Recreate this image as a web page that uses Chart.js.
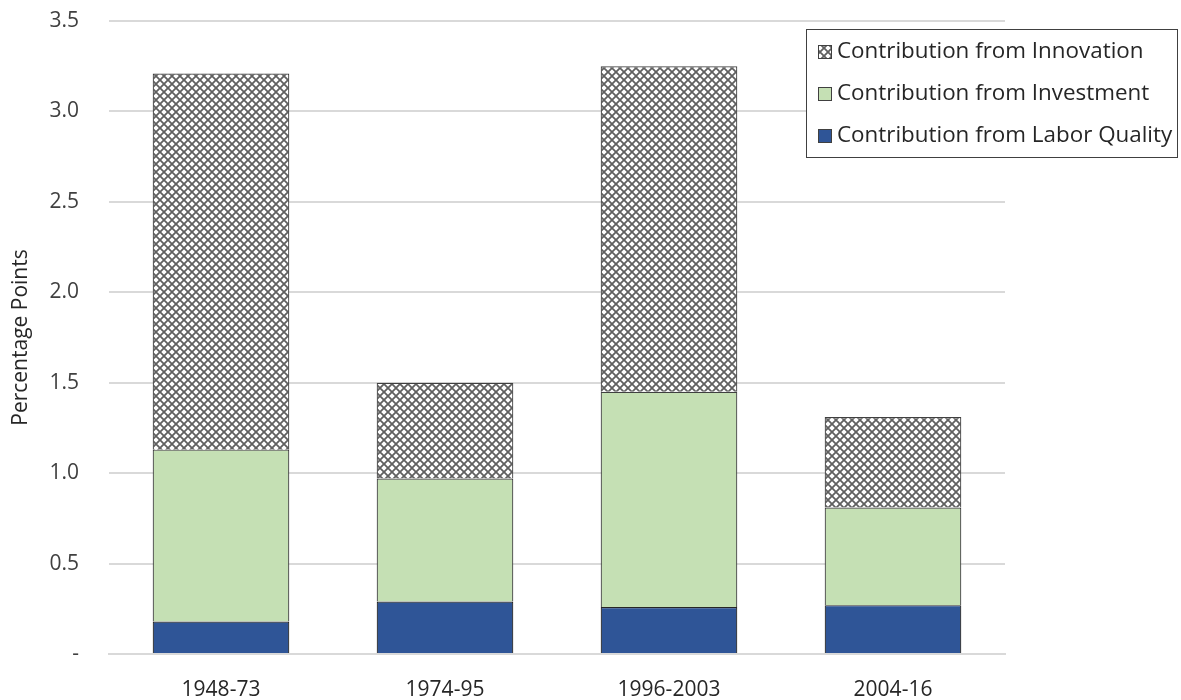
<!DOCTYPE html>
<html><head><meta charset="utf-8">
<script src="https://cdn.jsdelivr.net/npm/chart.js@4/dist/chart.umd.min.js"></script>
<style>html,body{margin:0;padding:0;background:#fff}#wrap{width:1181px;height:700px}</style>
</head><body><div id="wrap"><canvas id="c" width="1181" height="700"></canvas></div>
<script>
const categories = ["1948-73", "1974-95", "1996-2003", "2004-16"];
const laborQuality = [0.18, 0.29, 0.26, 0.27];
const investment = [0.95, 0.68, 1.19, 0.54];
const innovation = [2.08, 0.53, 1.80, 0.50];
const yTicks = [0, 0.5, 1.0, 1.5, 2.0, 2.5, 3.0, 3.5];
const seriesNames = ["Contribution from Labor Quality", "Contribution from Investment", "Contribution from Innovation"];

function makeHatch(){
  const s = 8;
  const p = document.createElement('canvas'); p.width = s; p.height = s;
  const g = p.getContext('2d');
  g.fillStyle = '#ffffff'; g.fillRect(0,0,s,s);
  g.strokeStyle = '#606060'; g.lineWidth = 1.8;
  g.beginPath();
  g.moveTo(-1, -1); g.lineTo(s+1, s+1);
  g.moveTo(-1, s+1); g.lineTo(s+1, -1);
  g.stroke();
  return document.getElementById('c').getContext('2d').createPattern(p, 'repeat');
}
const hatch = makeHatch();
const FONT = "'Open Sans', 'Liberation Sans', sans-serif";

const legendPlugin = {
  id: 'boxLegend',
  afterDraw(chart){
    const ctx = chart.ctx;
    const x = 806, y = 29, w = 371, h = 128;
    ctx.save();
    ctx.fillStyle = '#fff'; ctx.fillRect(x, y, w, h);
    ctx.strokeStyle = '#404040'; ctx.lineWidth = 1;
    ctx.strokeRect(x+0.5, y+0.5, w, h);
    const ds = chart.data.datasets.slice().reverse();
    ctx.font = "22.4px " + FONT;
    ctx.textBaseline = 'middle';
    ds.forEach((d, i) => {
      const cy = y + 22 + i * 42;
      ctx.fillStyle = d.backgroundColor;
      ctx.fillRect(x + 12, cy - 6, 14, 14);
      ctx.strokeStyle = '#404040'; ctx.lineWidth = 1;
      ctx.strokeRect(x + 12.5, cy - 5.5, 13, 13);
      ctx.fillStyle = '#262626';
      ctx.fillText(d.label, x + 31, cy + 1);
    });
    ctx.restore();
  }
};

new Chart(document.getElementById('c'), {
  type: 'bar',
  data: {
    labels: categories,
    datasets: [
      {label: seriesNames[0], data: laborQuality, backgroundColor: '#2F5597', borderColor: '#262626', borderWidth: 1.2},
      {label: seriesNames[1], data: investment, backgroundColor: '#C5E0B4', borderColor: '#404040', borderWidth: 1.2},
      {label: seriesNames[2], data: innovation, backgroundColor: hatch, borderColor: '#404040', borderWidth: 1.2}
    ]
  },
  plugins: [legendPlugin],
  options: {
    responsive: false,
    animation: false,
    layout: {padding: {left: 8, right: 176, top: 0, bottom: 0}},
    datasets: {bar: {categoryPercentage: 1.0, barPercentage: 0.61}},
    plugins: {legend: {display: false}, tooltip: {enabled: false}},
    scales: {
      x: {
        stacked: true,
        grid: {display: false, drawTicks: false},
        border: {display: true, color: '#d9d9d9', width: 2},
        ticks: {color: '#262626', font: {family: FONT, size: 21}, padding: 23},
        afterFit(scale){ scale.height = 46; }
      },
      y: {
        stacked: true, min: 0, max: 3.5,
        afterBuildTicks(axis){ axis.ticks = yTicks.map(v => ({value: v})); },
        afterFit(scale){ scale.width = 101; scale.paddingTop = 21; scale.paddingBottom = 0; },
        grid: {color: '#d9d9d9', lineWidth: 2, drawTicks: false},
        border: {display: false},
        title: {display: true, text: 'Percentage Points', color: '#262626', font: {family: FONT, size: 21}, padding: {top: 0, bottom: 0}},
        ticks: {color: '#404040', font: {family: FONT, size: 21}, padding: 30,
          callback: v => v === 0 ? '-' : Number(v).toFixed(1)}
      }
    }
  }
});
</script></body></html>
